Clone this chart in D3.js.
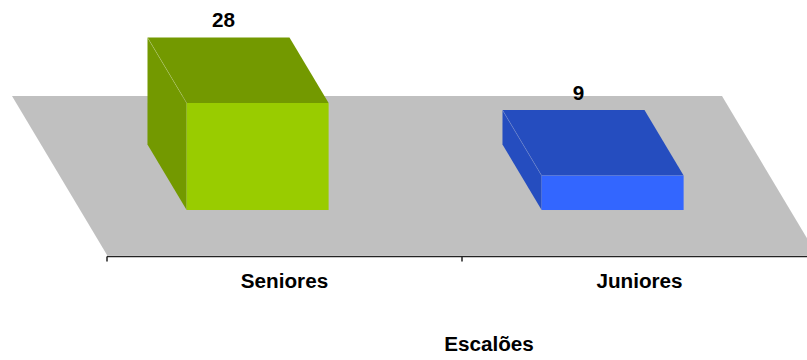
<!DOCTYPE html>
<html><head><meta charset="utf-8">
<script src="https://cdn.jsdelivr.net/npm/d3@7"></script>
<style>html,body{margin:0;padding:0;background:#fff;overflow:hidden}</style>
</head><body>
<svg id="c" width="807" height="360"></svg>
<script>
const categories = ["Seniores", "Juniores"];
const values = [28, 9];
const frontColors = ["#99CC00", "#3366FF"];
const darkColors = ["#739900", "#254DBF"];
const axisTitle = "Escalões";

const W = 807, H = 360;
const svg = d3.select("#c");
const floorY = 255;
const depth = {dx: -95, dy: -159};
const f0 = 0.283, f1 = 0.695;

const x = d3.scaleBand().domain(categories).range([107, 817]).padding(0);
const y = d3.scaleLinear().domain([0, d3.max(values)]).range([0, 107]);
const barW = x.bandwidth() * 0.4;

const fontFam = "'Liberation Sans', Arial, sans-serif";

// floor
const x0 = x.range()[0], x1 = x.range()[1];
svg.append("polygon")
  .attr("points", [[x0, floorY], [x1, floorY], [x1 + depth.dx, floorY + depth.dy], [x0 + depth.dx, floorY + depth.dy]].map(p => p.join(",")).join(" "))
  .attr("fill", "#C0C0C0");

// bars
categories.forEach((c, i) => {
  const cx = x(c) + x.bandwidth() / 2;
  const h = y(values[i]);
  const fl = cx - barW / 2 + f0 * depth.dx, fy = floorY + f0 * depth.dy;
  const bl = cx - barW / 2 + f1 * depth.dx, by = floorY + f1 * depth.dy;
  const g = svg.append("g");
  g.append("polygon")
    .attr("points", [[bl, by], [fl, fy], [fl, fy - h], [bl, by - h]].map(p => p.join(",")).join(" "))
    .attr("fill", darkColors[i]);
  g.append("polygon")
    .attr("points", [[fl, fy - h], [fl + barW, fy - h], [bl + barW, by - h], [bl, by - h]].map(p => p.join(",")).join(" "))
    .attr("fill", darkColors[i]);
  g.append("line")
    .attr("x1", bl).attr("y1", by - h).attr("x2", fl).attr("y2", fy - h)
    .attr("stroke", "#ffffff").attr("stroke-opacity", 0.3).attr("stroke-width", 0.6);
  g.append("rect")
    .attr("x", fl).attr("y", fy - h).attr("width", barW).attr("height", h)
    .attr("fill", frontColors[i]);
  svg.append("text")
    .attr("x", bl + barW / 2 + 5).attr("y", by - h - 10)
    .attr("text-anchor", "middle")
    .attr("font-family", fontFam).attr("font-weight", "bold").attr("font-size", 20.7)
    .attr("fill", "#000").text(values[i]);
});

// axis
const axY = 256.5;
svg.append("line").attr("x1", x0).attr("x2", W).attr("y1", axY).attr("y2", axY)
  .attr("stroke", "#222").attr("stroke-width", 1.5);
const bounds = [x0].concat(categories.map(c => x(c) + x.bandwidth()));
svg.selectAll(".tk").data(bounds).enter().append("line")
  .attr("x1", d => d).attr("x2", d => d).attr("y1", axY).attr("y2", axY + 5)
  .attr("stroke", "#222").attr("stroke-width", 1.5);

svg.selectAll(".cl").data(categories).enter().append("text")
  .attr("x", d => x(d) + x.bandwidth() / 2).attr("y", 288)
  .attr("text-anchor", "middle")
  .attr("font-family", fontFam).attr("font-weight", "bold").attr("font-size", 20.7)
  .text(d => d);

svg.append("text").attr("x", 489).attr("y", 351)
  .attr("text-anchor", "middle")
  .attr("font-family", fontFam).attr("font-weight", "bold").attr("font-size", 20.7)
  .text(axisTitle);
</script>
</body></html>
